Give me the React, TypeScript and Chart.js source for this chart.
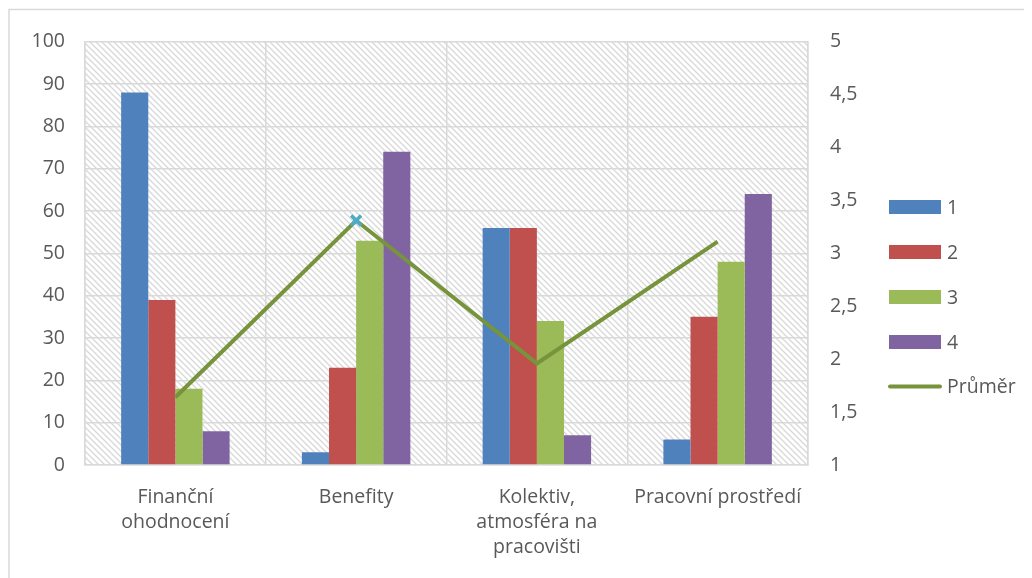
import React, { useEffect, useRef } from "react";
import { Chart, registerables } from "chart.js";

Chart.register(...registerables);

const categories: (string | string[])[] = [
  ["Finanční", "ohodnocení"],
  "Benefity",
  ["Kolektiv,", "atmosféra na", "pracovišti"],
  "Pracovní prostředí",
];
const series1 = [88, 3, 56, 6];
const series2 = [39, 23, 56, 35];
const series3 = [18, 53, 34, 48];
const series4 = [8, 74, 7, 64];
const average = [1.64, 3.31, 1.96, 3.11];
const seriesNames = ["1", "2", "3", "4"];
const averageName = "Průměr";

const barColors = ["#4f81bd", "#c0504d", "#9bbb59", "#8064a2"];
const lineColor = "#77933c";
const markerColor = "#4bacc6";
const gridColor = "#d9d9d9";
const textColor = "#595959";
const fontFamily = "'Open Sans', 'Noto Sans', sans-serif";
const fontSize = 19.5;

function makeHatch(ctx: CanvasRenderingContext2D): CanvasPattern | string {
  const size = 6;
  const c = document.createElement("canvas");
  c.width = size;
  c.height = size;
  const g = c.getContext("2d");
  if (!g) return "#fff";
  g.fillStyle = "#ffffff";
  g.fillRect(0, 0, size, size);
  g.strokeStyle = "#d8d8d8";
  g.lineWidth = 1.3;
  g.beginPath();
  g.moveTo(-1, -1);
  g.lineTo(size + 1, size + 1);
  g.moveTo(-1, size - 1);
  g.lineTo(1, size + 1);
  g.moveTo(size - 1, -1);
  g.lineTo(size + 1, 1);
  g.stroke();
  return ctx.createPattern(c, "repeat") || "#fff";
}

const backgroundPlugin = {
  id: "plotBackground",
  beforeDraw(chart: any) {
    const { ctx, chartArea, width, height } = chart;
    ctx.save();
    ctx.fillStyle = "#ffffff";
    ctx.fillRect(0, 0, width, height);
    // outer frame
    ctx.strokeStyle = gridColor;
    ctx.lineWidth = 1.5;
    ctx.beginPath();
    ctx.moveTo(1, height + 5);
    ctx.lineTo(1, 1.5);
    ctx.lineTo(width + 5, 1.5);
    ctx.stroke();
    ctx.fillStyle = makeHatch(ctx);
    ctx.fillRect(chartArea.left, chartArea.top, chartArea.right - chartArea.left, chartArea.bottom - chartArea.top);
    ctx.restore();
  },
};

const legendPlugin = {
  id: "sideLegend",
  afterDraw(chart: any) {
    const { ctx } = chart;
    const x0 = 881;
    const boxW = 52;
    const rowY = [199, 244, 289, 334, 378.5];
    ctx.save();
    ctx.font = `${fontSize}px ${fontFamily}`;
    ctx.textBaseline = "middle";
    seriesNames.forEach((name, i) => {
      ctx.fillStyle = barColors[i];
      ctx.fillRect(x0, rowY[i] - 7, boxW, 14);
      ctx.fillStyle = textColor;
      ctx.fillText(name, x0 + boxW + 6, rowY[i] + 1);
    });
    ctx.strokeStyle = lineColor;
    ctx.lineWidth = 4;
    ctx.lineCap = "round";
    ctx.beginPath();
    ctx.moveTo(x0 + 1, rowY[4]);
    ctx.lineTo(x0 + boxW - 1, rowY[4]);
    ctx.stroke();
    ctx.fillStyle = textColor;
    ctx.fillText(averageName, x0 + boxW + 6, rowY[4] + 1);
    ctx.restore();
  },
};

export default function App() {
  const ref = useRef<HTMLCanvasElement | null>(null);

  useEffect(() => {
    if (!ref.current) return;
    const barSets = [series1, series2, series3, series4].map((d, i) => ({
      type: "bar" as const,
      label: seriesNames[i],
      data: d,
      backgroundColor: barColors[i],
      borderWidth: 0,
      yAxisID: "y",
      order: 1,
      categoryPercentage: 0.6,
      barPercentage: 1.0,
    }));
    const chart = new Chart(ref.current, {
      type: "bar",
      data: {
        labels: categories,
        datasets: [
          {
            type: "line" as const,
            label: averageName,
            data: average,
            borderColor: lineColor,
            borderWidth: 4,
            yAxisID: "y1",
            order: 0,
            pointStyle: "crossRot",
            pointRadius: average.map((_, i) => (i === 1 ? 7 : 0)),
            pointBorderColor: markerColor,
            pointBorderWidth: 3.5,
            pointBackgroundColor: markerColor,
            tension: 0,
          } as any,
          ...barSets,
        ],
      },
      options: {
        animation: false,
        responsive: false,
        maintainAspectRatio: false,
        layout: { padding: { top: 27, right: 154, left: 0, bottom: 0 } },
        plugins: {
          legend: { display: false },
          tooltip: { enabled: false },
        },
        scales: {
          x: {
            offset: true,
            grid: { color: gridColor, lineWidth: 1.5, offset: true, drawTicks: false },
            border: { color: gridColor, width: 1.5 },
            ticks: {
              color: textColor,
              font: { family: fontFamily, size: fontSize, lineHeight: 1.28 },
              padding: 20,
              maxRotation: 0,
              autoSkip: false,
            },
            afterFit(scale: any) {
              scale.height = 113;
            },
          },
          y: {
            position: "left",
            min: 0,
            max: 100,
            ticks: {
              stepSize: 10,
              color: textColor,
              font: { family: fontFamily, size: fontSize },
              padding: 20,
            },
            grid: { color: gridColor, lineWidth: 1.5, drawTicks: false },
            border: { color: gridColor, width: 1.5 },
            afterFit(scale: any) {
              scale.width = 77;
            },
          },
          y1: {
            position: "right",
            min: 1,
            max: 5,
            ticks: {
              stepSize: 0.5,
              color: textColor,
              font: { family: fontFamily, size: fontSize },
              padding: 22,
              callback: (v: any) => String(v).replace(".", ","),
            },
            grid: { display: false, drawTicks: false },
            border: { color: gridColor, width: 1.5 },
            afterFit(scale: any) {
              scale.width = 70;
            },
          },
        },
      },
      plugins: [backgroundPlugin, legendPlugin],
    });
    return () => chart.destroy();
  }, []);

  return (
    <div style={{ width: 1024, height: 570 }}>
      <canvas ref={ref} width={1024} height={570} style={{ display: "block" }} />
    </div>
  );
}
